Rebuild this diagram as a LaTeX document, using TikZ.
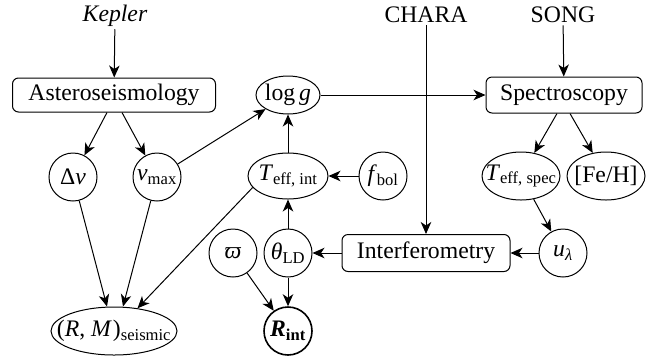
\documentclass[tikz,border=0pt]{standalone}
\usepackage{fontspec}
\setmainfont{Liberation Serif}
\usetikzlibrary{arrows.meta,shapes.geometric}
\newcommand\qsb[1]{\textsubscript{#1}}
\newcommand\fixw[1]{\makebox[0pt]{#1}}
\begin{document}
\begin{tikzpicture}[x=1pt,y=-1pt,
  font=\fontsize{23.7}{27}\selectfont,
  every path/.style={line width=1pt},
  arr/.style={-{Stealth[length=12pt,width=10.5pt,inset=3.5pt]}},
  boxnode/.style={draw,rounded corners=6pt,inner sep=0pt},
  circ/.style={draw,circle,minimum size=48pt,inner sep=0pt},
  ell/.style={draw,ellipse,inner sep=0pt},
  lbl/.style={inner sep=2pt}]
\useasboundingbox (0,0) rectangle (660,360);
% sources
\node[lbl] (kepler) at (115,16) {\textit{Kepler}};
\node[lbl] (chara) at (426,15) {CHARA};
\node[lbl] (song) at (563,15) {SONG};
% boxes
\node[boxnode,minimum width=203pt,minimum height=34pt] (aster) at (114,95) {Asteroseismology};
\node[boxnode,minimum width=156pt,minimum height=36pt] (spec) at (564,95) {Spectroscopy};
\node[boxnode,minimum width=168pt,minimum height=37pt] (interf) at (426,253) {Interferometry};
% quantities
\node[circ] (dnu) at (73,177) {\fixw{Δ\textit{ν}}};
\node[circ] (numax) at (157,177) {\fixw{\textit{ν}\qsb{max}}};
\node[ell,minimum width=64pt,minimum height=38pt] (logg) at (288,95) {\fixw{log\,\textit{g}}};
\node[ell,minimum width=80pt,minimum height=46pt] (teffint) at (288,176) {\fixw{\textit{T}\qsb{eff, int}}};
\node[circ] (fbol) at (383,176) {\fixw{\textit{f}\qsb{bol}}};
\node[ell,minimum width=78pt,minimum height=48pt] (teffspec) at (521,176) {\fixw{\textit{T}\qsb{eff, spec}}};
\node[ell,minimum width=78pt,minimum height=48pt] (feh) at (606,176) {\fixw{[Fe/H]}};
\node[circ] (ul) at (563,253) {\fixw{\textit{u}\qsb{\textit{λ}}}};
\node[circ] (thld) at (288,253) {\fixw{\textit{θ}\qsb{LD}}};
\node[circ] (plx) at (233,253) {\fixw{\textit{ϖ}}};
\node[circ,line width=1.6pt] (rint) at (288,331) {\fixw{\textbf{\textit{R}}\qsb{\textbf{int}}}};
\node[ell,minimum width=126pt,minimum height=48pt] (rm) at (114,331) {\fixw{(\textit{R}, \textit{M}\kern1pt)\qsb{seismic}}};
% connectors
\draw[arr] (kepler) -- (aster);
\draw[arr] (song) -- (spec);
\draw[arr] (chara) -- (interf);
\draw[arr] ([xshift=-7pt]aster.south) -- (dnu);
\draw[arr] ([xshift=8pt]aster.south) -- (numax);
\draw[arr] (numax) -- (logg);
\draw[arr] (teffint) -- (logg);
\draw[arr] (fbol) -- (teffint);
\draw[arr] (logg) -- (spec);
\draw[arr] ([xshift=-7pt]spec.south) -- (teffspec);
\draw[arr] ([xshift=6pt]spec.south) -- (feh);
\draw[arr] (teffspec) -- (ul);
\draw[arr] (ul) -- (interf);
\draw[arr] (interf) -- (thld);
\draw[arr] (thld) -- (teffint);
\draw[arr] (thld) -- (rint);
\draw[arr] (plx) -- (rint);
\draw[arr] (dnu) -- ([xshift=-7pt]rm.north);
\draw[arr] (numax) -- ([xshift=9pt]rm.north);
\draw[arr] (teffint.198) -- (rm.44);
\end{tikzpicture}
\end{document}
